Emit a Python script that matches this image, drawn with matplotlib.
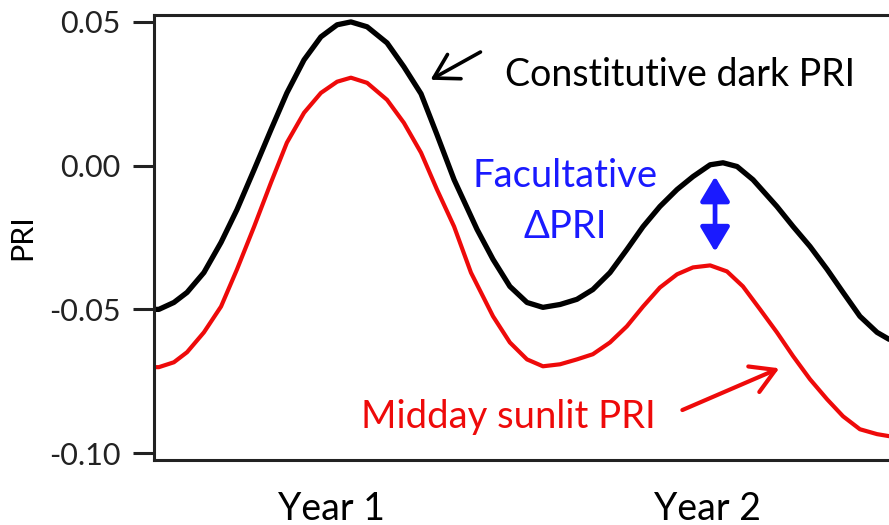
import numpy as np
import matplotlib
matplotlib.use("Agg")
import matplotlib.pyplot as plt

plt.rcParams["font.family"] = ["Lato", "DejaVu Sans"]

# months over two seasons
months_dark = [0.00, 0.16, 0.65, 1.08, 1.63, 2.19, 2.71, 3.27, 3.82, 4.34, 4.90, 5.45,
               5.98, 6.43, 6.96, 7.61, 8.16, 8.72, 9.24, 9.80, 10.55, 11.07, 11.62,
               12.18, 12.70, 13.26, 13.81, 14.33, 14.89, 15.44, 15.97, 16.52, 17.08,
               17.60, 18.16, 18.58, 19.04, 19.56, 20.34, 20.87, 21.42, 21.98, 22.50,
               23.05, 23.61, 24.00]
pri_dark = [-0.0500, -0.0500, -0.0476, -0.0441, -0.0372, -0.0267, -0.0153, -0.0014,
            0.0125, 0.0253, 0.0368, 0.0448, 0.0490, 0.0500, 0.0483, 0.0427, 0.0344,
            0.0250, 0.0108, -0.0049, -0.0222, -0.0326, -0.0420, -0.0476, -0.0493,
            -0.0483, -0.0465, -0.0431, -0.0372, -0.0292, -0.0212, -0.0142, -0.0083,
            -0.0038, 0.0003, 0.0010, -0.0003, -0.0049, -0.0142, -0.0212, -0.0281,
            -0.0361, -0.0441, -0.0524, -0.0580, -0.0604]

months_sun = [0.00, 0.16, 0.65, 1.08, 1.63, 2.19, 2.71, 3.27, 3.82, 4.34, 4.90, 5.45,
              5.98, 6.43, 6.96, 7.61, 8.16, 8.72, 9.24, 9.80, 10.35, 11.07, 11.62,
              12.18, 12.70, 13.26, 13.81, 14.33, 14.89, 15.44, 15.97, 16.52, 17.08,
              17.60, 18.16, 18.71, 19.23, 19.79, 20.34, 20.87, 21.42, 21.98, 22.50,
              23.05, 23.61, 24.00]
pri_sun = [-0.0701, -0.0701, -0.0684, -0.0649, -0.0580, -0.0490, -0.0361, -0.0212,
           -0.0059, 0.0080, 0.0184, 0.0253, 0.0292, 0.0306, 0.0288, 0.0229, 0.0149,
           0.0045, -0.0083, -0.0212, -0.0372, -0.0524, -0.0615, -0.0674, -0.0698,
           -0.0691, -0.0674, -0.0656, -0.0615, -0.0559, -0.0490, -0.0424, -0.0378,
           -0.0354, -0.0347, -0.0368, -0.0420, -0.0500, -0.0580, -0.0663, -0.0743,
           -0.0813, -0.0872, -0.0917, -0.0934, -0.0941]

year_pos = [5.81, 18.06]
year_labels = ["Year 1", "Year 2"]
y_ticks = [-0.10, -0.05, 0.00, 0.05]
y_ticklabels = ["-0.10", "-0.05", "0.00", "0.05"]

RED = "#ee0a0a"
BLUE = "#1a1aff"

fig = plt.figure(figsize=(8.89, 5.25), dpi=100)
ax = fig.add_axes([0.1732, 0.1238, 0.8268, 0.8476])

ax.plot(months_dark, pri_dark, color="black", lw=3.8,
        solid_capstyle="round", solid_joinstyle="round")
ax.plot(months_sun, pri_sun, color=RED, lw=3.0,
        solid_capstyle="round", solid_joinstyle="round")

ax.set_xlim(0, 24)
ax.set_ylim(-0.1024, 0.0524)
ax.set_yticks(y_ticks)
ax.set_yticklabels(y_ticklabels)
ax.set_xticks(year_pos)
ax.set_xticklabels(year_labels)
ax.tick_params(axis="y", length=15, width=2.2, pad=9, labelsize=22, colors="#222222")
ax.tick_params(axis="x", length=0, pad=22, labelsize=27)
ax.set_ylabel("PRI", fontsize=22, labelpad=9)

ax.spines["right"].set_visible(False)
for s in ["left", "top", "bottom"]:
    ax.spines[s].set_linewidth(2.2)
    ax.spines[s].set_color("#222222")

# annotations
ax.annotate("", xy=(8.95, 0.0294), xytext=(10.74, 0.0400),
            arrowprops=dict(arrowstyle="->,head_length=0.85,head_width=0.5",
                            color="black", lw=2.6, mutation_scale=20))
ax.text(11.46, 0.0316, "Constitutive dark PRI", fontsize=27, color="black",
        ha="left", va="center")

ax.text(13.42, -0.0035, "Facultative", fontsize=27.5, color=BLUE,
        ha="center", va="center")
ax.text(13.42, -0.0215, "ΔPRI", fontsize=27.5, color=BLUE,
        ha="center", va="center")
ax.annotate("", xy=(18.32, -0.0299), xytext=(18.32, -0.0038),
            arrowprops=dict(arrowstyle="<|-|>,head_length=0.75,head_width=0.45",
                            color=BLUE, lw=3.4, mutation_scale=20,
                            shrinkA=0, shrinkB=0))

ax.text(11.56, -0.0875, "Midday sunlit PRI", fontsize=27.5, color=RED,
        ha="center", va="center")
ax.annotate("", xy=(20.5, -0.0701), xytext=(17.17, -0.0854),
            arrowprops=dict(arrowstyle="->,head_length=0.85,head_width=0.5",
                            color=RED, lw=3.0, mutation_scale=20))

fig.savefig("out.png", dpi=100)
